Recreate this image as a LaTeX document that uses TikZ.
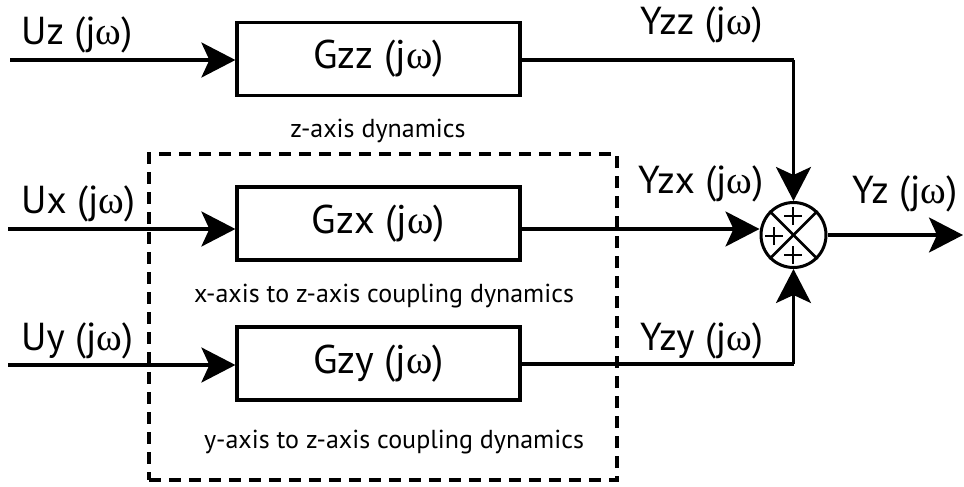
\documentclass[tikz,border=0pt]{standalone}
\usepackage{fontspec}
\setmainfont{PT Sans}
\newfontfamily\omegafont{Liberation Serif}
\usetikzlibrary{arrows.meta}
\newcommand{\jw}{(j{\omegafont ω})}

\begin{document}
\begin{tikzpicture}[x=1pt,y=-1pt,
  block/.style={draw, line width=3.2pt, minimum width=283pt, minimum height=73pt,
                inner sep=0pt, font=\fontsize{40}{46}\selectfont},
  sig/.style={line width=3.3pt, -{Stealth[length=34pt,width=35pt,inset=8pt]}},
  wire/.style={line width=3.3pt},
  lab/.style={inner sep=0pt, anchor=base west, font=\fontsize{39}{46}\selectfont},
  blocknote/.style={inner sep=0pt, anchor=base, font=\fontsize{26}{30}\selectfont},
  grpbox/.style={draw, line width=3.4pt, dash pattern=on 12pt off 8pt},
  sumnode/.style={circle, draw, line width=3pt, minimum size=65pt, inner sep=0pt},
  plusmark/.style={line width=2.8pt}]
\useasboundingbox (0,0) rectangle (964,487);

% transfer blocks
\node[block] (gzz) at (378.5,59)  {Gzz \jw};
\node[block] (gzx) at (378.5,223.5) {Gzx \jw};
\node[block] (gzy) at (378.5,363.5) {Gzy \jw};

% captions
\node[blocknote] (czz) at (378,137) {z-axis dynamics};
\node[blocknote] (czx) at (384,302) {x-axis to z-axis coupling dynamics};
\node[blocknote] (czy) at (394,448) {y-axis to z-axis coupling dynamics};

% coupling group
\node[grpbox, minimum width=468pt, minimum height=326pt, inner sep=0pt] (grp) at (383,317) {};

% summing junction
\node[sumnode] (sum) at (793.5,235) {};
\draw[line width=2.6pt] (sum.north west) -- (sum.south east);
\draw[line width=2.6pt] (sum.north east) -- (sum.south west);
\coordinate (pt) at (793,216);
\coordinate (pl) at (774,236);
\coordinate (pb) at (793,255);
\foreach \p in {pt,pl,pb}{
  \draw[plusmark] ([xshift=-9pt]\p) -- ([xshift=9pt]\p);
  \draw[plusmark] ([yshift=-9pt]\p) -- ([yshift=9pt]\p);
}

% inputs
\coordinate (uz) at (10,60);
\coordinate (ux) at (8,229);
\coordinate (uy) at (8,365);
\draw[sig] (uz) -- (uz -| gzz.west);
\draw[sig] (ux) -- (ux -| gzx.west);
\draw[sig] (uy) -- (uy -| gzy.west);

% outputs into the junction
\coordinate (kzz) at (793.5,60);
\coordinate (kzy) at (793.5,364);
\draw[wire] (gzz.east |- kzz) -- (kzz);
\draw[sig] (kzz) -- (sum.north);
\draw[sig] (gzx.east |- ux) -- (ux -| sum.west);
\draw[wire] (gzy.east |- kzy) -- (kzy);
\draw[sig] (kzy) -- (sum.south);

% output
\coordinate (yout) at (963,235);
\draw[sig] (sum.east) -- (yout);

% signal labels
\node[lab] (luz) at (21,45)  {Uz \jw};
\node[lab] (lux) at (21,213) {Ux \jw};
\node[lab] (luy) at (21,350) {Uy \jw};
\node[lab] (lyzz) at (640,35)  {Yzz \jw};
\node[lab] (lyzx) at (638,193) {Yzx \jw};
\node[lab] (lyzy) at (640,350) {Yzy \jw};
\node[lab] (lyz)  at (852,203) {Yz \jw};
\end{tikzpicture}
\end{document}
